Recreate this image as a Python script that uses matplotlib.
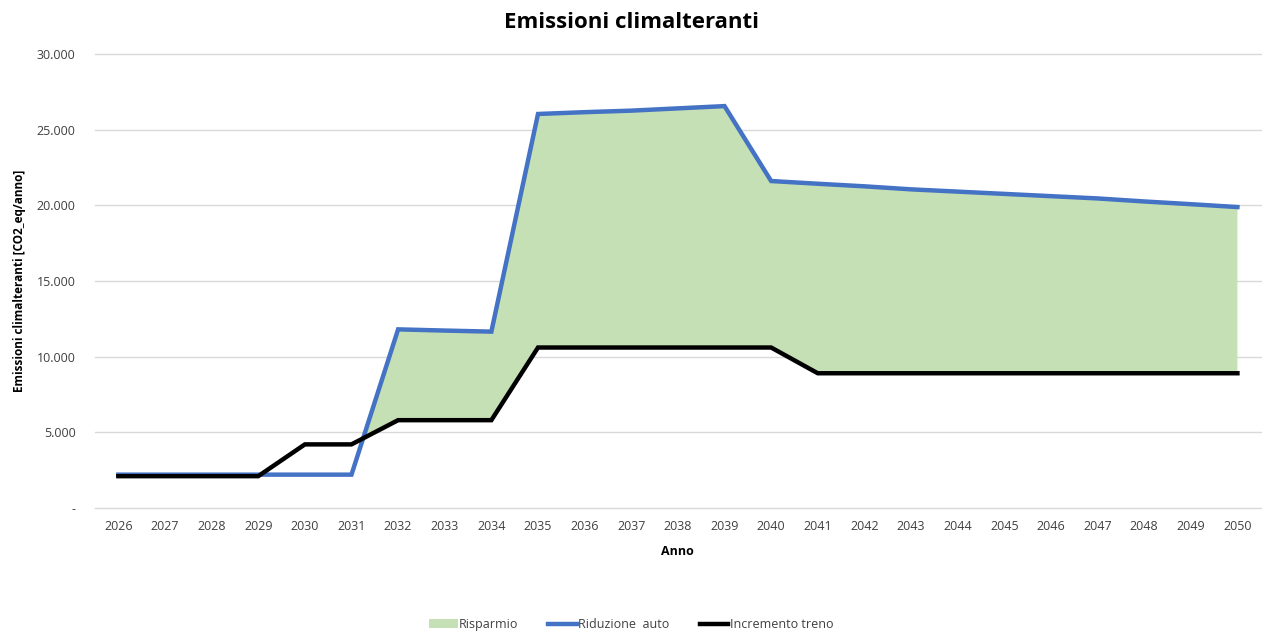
import matplotlib.pyplot as plt
import numpy as np
from matplotlib.patches import Patch
from matplotlib.lines import Line2D
from matplotlib.ticker import FuncFormatter

plt.rcParams["font.family"] = ["Open Sans", "DejaVu Sans"]

years = list(range(2026, 2051))
riduzione_auto = [2200, 2200, 2200, 2200, 2200, 2200, 11800, 11720, 11650,
                  26030, 26150, 26250, 26400, 26550, 21600, 21420, 21250,
                  21050, 20900, 20750, 20600, 20450, 20250, 20070, 19880]
incremento_treno = [2100, 2100, 2100, 2100, 4200, 4200, 5800, 5800, 5800,
                    10600, 10600, 10600, 10600, 10600, 10600, 8900, 8900,
                    8900, 8900, 8900, 8900, 8900, 8900, 8900, 8900]

GREEN = "#C5E0B4"
BLUE = "#4472C4"

fig = plt.figure(figsize=(12.62, 6.31), dpi=100)
ax = fig.add_axes([0.0753, 0.195, 0.9237, 0.7196])

x = np.arange(len(years))
a = np.array(riduzione_auto, dtype=float)
t = np.array(incremento_treno, dtype=float)
ax.fill_between(x, t, a, where=a >= t, interpolate=True, color=GREEN,
                lw=0, zorder=1)
ax.plot(x, a, color=BLUE, lw=3.2, zorder=3, solid_joinstyle="miter")
ax.plot(x, t, color="black", lw=3.2, zorder=4, solid_joinstyle="miter")

ax.set_xlim(-0.5, len(years) - 0.5)
ax.set_ylim(0, 30000)
ax.set_xticks(x)
ax.set_xticklabels([str(y) for y in years], fontsize=9, color="#404040")
ax.set_yticks(np.arange(0, 30001, 5000))
ax.yaxis.set_major_formatter(FuncFormatter(
    lambda v, p: "-" if v == 0 else f"{int(v):,}".replace(",", ".")))
ax.tick_params(axis="y", labelsize=9, labelcolor="#404040", length=0, pad=14)
ax.tick_params(axis="x", length=0, pad=9)
ax.grid(axis="y", color="#D9D9D9", lw=1)
for gl in ax.get_ygridlines():
    gl.set_clip_on(False)
ax.set_axisbelow(True)
for s in ax.spines.values():
    s.set_visible(False)

ax.set_xlabel("Anno", fontsize=9, fontweight="bold", labelpad=8)
ax.set_ylabel("Emissioni climalteranti [CO2_eq/anno]", fontsize=8.5,
              fontweight="bold", labelpad=8)
fig.text(0.5, 0.965, "Emissioni climalteranti", ha="center", va="center",
         fontsize=16, fontweight="bold")

handles = [Patch(facecolor=GREEN, edgecolor="none", label="Risparmio"),
           Line2D([], [], color=BLUE, lw=3.2, label="Riduzione  auto"),
           Line2D([], [], color="black", lw=3.2, label="Incremento treno")]
leg = fig.legend(handles=handles, loc="center", bbox_to_anchor=(0.5, 0.01),
                 ncol=3, frameon=False, fontsize=9, handlelength=2.3,
                 handletextpad=0.1, columnspacing=2.4)
for txt in leg.get_texts():
    txt.set_color("#404040")

fig.savefig("out.png", dpi=100)
